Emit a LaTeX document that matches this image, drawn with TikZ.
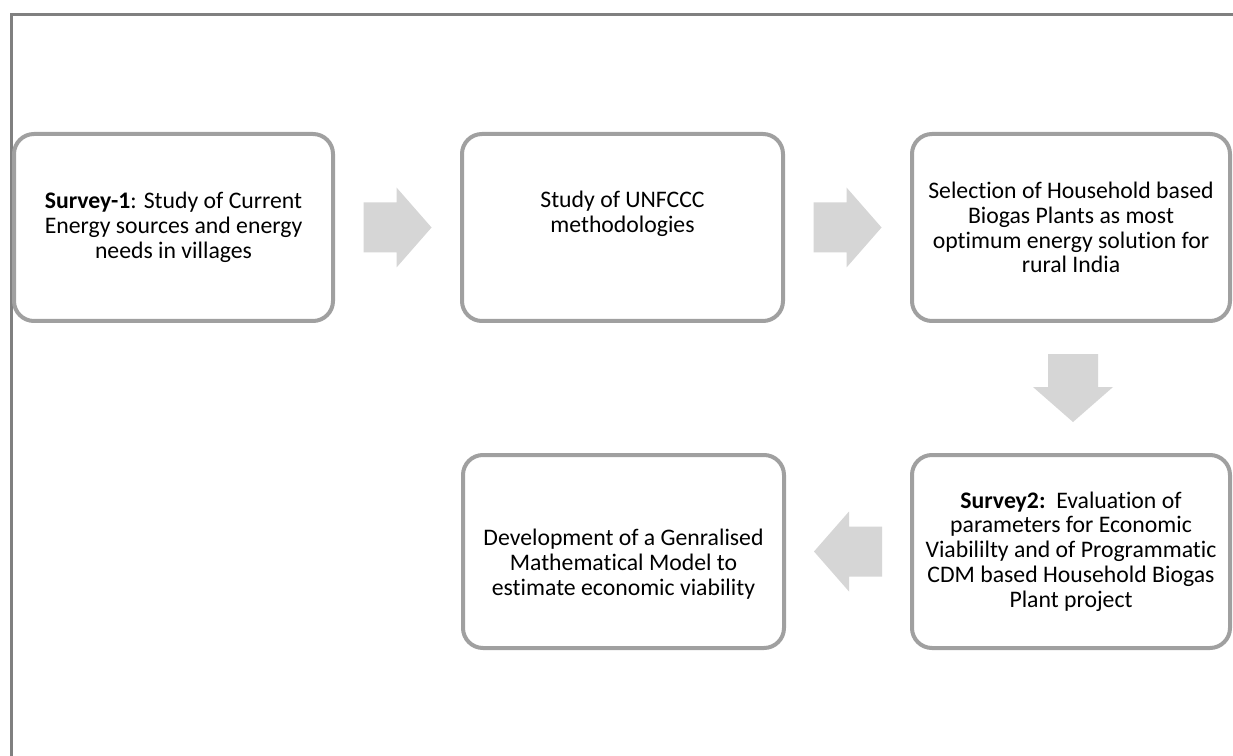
\documentclass[tikz,border=0pt]{standalone}
\usepackage{fontspec}
\setmainfont{Carlito}[Ligatures={NoCommon}]
\usetikzlibrary{calc}
\definecolor{framegray}{RGB}{128,128,128}
\definecolor{boxgray}{RGB}{160,160,160}
\definecolor{arrowgray}{RGB}{214,214,214}
\tikzset{
  stepbox/.style={draw=boxgray, line width=3pt, rounded corners=15pt, fill=white,
    align=center, inner sep=0pt, font=\fontsize{17.8}{18.6}\selectfont, text=black},
  rowone/.style={minimum height=140.25pt},
  rowtwo/.style={minimum height=144.75pt},
  pics/blockarrow/.style={code={
    \fill[arrowgray] (-34,-25) -- (-1,-25) -- (-1,-40) -- (34,0) -- (-1,40) -- (-1,25) -- (-34,25) -- cycle;
  }}
}
\begin{document}
\begin{tikzpicture}[x=0.75pt,y=-0.75pt]
\useasboundingbox (0,0) rectangle (1233,756);
\fill[white] (0,0) rectangle (1233,756);
\draw[framegray, line width=2.25pt] (11,760) -- (11,15) -- (1240,15);

\node[stepbox, rowone, minimum width=239.25pt] (b1) at (173.5,227.5)
  {\textbf{Survey-1}: Study of Current\\Energy sources and energy\\needs in villages};
\node[stepbox, rowone, minimum width=240.75pt] (b2) at (622.5,227.5)
  {Study of UNFCCC\\methodologies\\\strut};
\node[stepbox, rowone, minimum width=238.5pt] (b3) at (1071,227.5)
  {Selection of Household based\\Biogas Plants as most\\optimum energy solution for\\rural India};
\node[stepbox, rowtwo, minimum width=238.5pt] (b4) at (1071,551.5)
  {\textbf{Survey2:}\ \ Evaluation of\\parameters for Economic\\Viabililty and of Programmatic\\CDM based Household Biogas\\Plant project};
\node[stepbox, rowtwo, minimum width=240.75pt] (b5) at (623.5,551.5)
  {\strut\\Development of a Genralised\\Mathematical Model to\\estimate economic viability};

\pic at ($(b1.east)!0.5!(b2.west)$) {blockarrow};
\pic at ($(b2.east)!0.5!(b3.west)$) {blockarrow};
\pic[rotate=-90] at ($(b3.south)!0.5!(b4.north)+(2,0)$) {blockarrow};
\pic[rotate=180] at ($(b4.west)!0.5!(b5.east)$) {blockarrow};
\end{tikzpicture}
\end{document}
